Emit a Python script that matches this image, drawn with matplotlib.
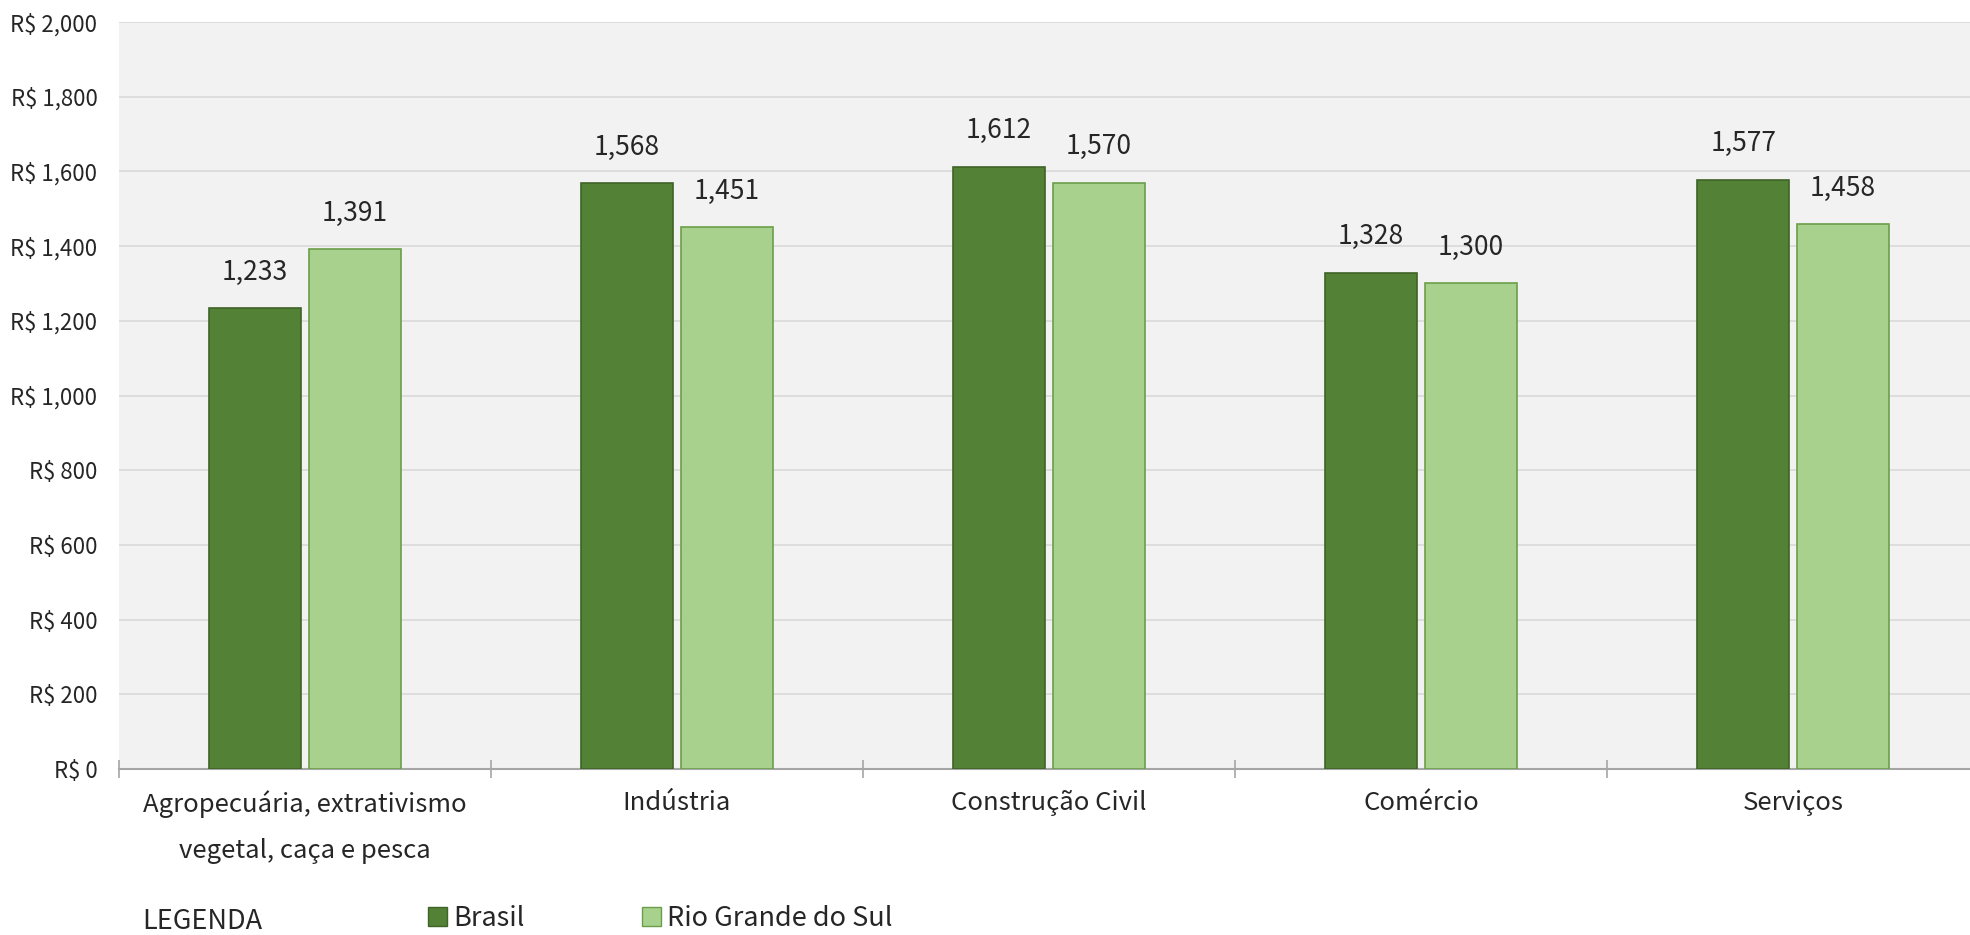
import matplotlib
matplotlib.use("Agg")
import matplotlib.pyplot as plt
import numpy as np
from matplotlib.patches import Patch
from matplotlib.ticker import FuncFormatter, MultipleLocator, FixedLocator

plt.rcParams["font.family"] = ["Noto Sans CJK JP", "DejaVu Sans"]

categories = [
    "Agropecuária, extrativismo\nvegetal, caça e pesca",
    "Indústria",
    "Construção Civil",
    "Comércio",
    "Serviços",
]
brasil = [1233, 1568, 1612, 1328, 1577]
rio_grande_do_sul = [1391, 1451, 1570, 1300, 1458]
series_names = ["Brasil", "Rio Grande do Sul"]

dark_green = "#538135"
light_green = "#A9D18E"
text_color = "#262626"

fig = plt.figure(figsize=(19.7, 9.35), dpi=100)
ax = fig.add_axes([119 / 1970, 1 - 769 / 935, 1860 / 1970, 747 / 935])
ax.set_facecolor("#F2F2F2")

x = np.arange(len(categories))
width = 0.247
offset = 0.134
b1 = ax.bar(x - offset, brasil, width, color=dark_green, edgecolor="#3E6427", linewidth=1.2, zorder=3)
b2 = ax.bar(x + offset, rio_grande_do_sul, width, color=light_green, edgecolor="#6A9E4A", linewidth=1.2, zorder=3)

for bars, vals in ((b1, brasil), (b2, rio_grande_do_sul)):
    for rect, v in zip(bars, vals):
        ax.annotate(f"{v:,}", (rect.get_x() + rect.get_width() / 2, v),
                    xytext=(0, 26), textcoords="offset points",
                    ha="center", va="center", fontsize=19, color=text_color)

ax.set_xlim(-0.5, len(categories) - 0.5)
ax.set_ylim(0, 2000)
ax.yaxis.set_major_locator(MultipleLocator(200))
ax.yaxis.set_major_formatter(FuncFormatter(lambda v, p: f"R$ {v:,.0f}"))
ax.grid(axis="y", color="#D9D9D9", linewidth=1.2, zorder=0)
ax.set_axisbelow(True)

ax.set_xticks(x)
ax.set_xticklabels(categories, fontsize=18.5, color=text_color, linespacing=2.0)
ax.xaxis.set_minor_locator(FixedLocator(np.arange(-0.5, len(categories), 1.0)))
ax.tick_params(axis="x", which="major", length=0, pad=15)
ax.tick_params(axis="x", which="minor", length=13, direction="inout", color="#A6A6A6", width=1.2)
ax.tick_params(axis="y", length=0, pad=15.5, labelsize=16, labelcolor=text_color)

for side in ("top", "right", "left"):
    ax.spines[side].set_visible(False)
ax.spines["bottom"].set_color("#A6A6A6")
ax.spines["bottom"].set_linewidth(1.5)

fig.text(142 / 1970, 1 - 929 / 935, "LEGENDA", fontsize=19.5, color=text_color, va="baseline", ha="left")
handles = [
    Patch(facecolor=dark_green, edgecolor="#3E6427"),
    Patch(facecolor=light_green, edgecolor="#6A9E4A"),
]
fig.legend(handles, series_names, ncol=2, loc="center left",
           bbox_to_anchor=(428 / 1970, 1 - 918 / 935), frameon=False,
           fontsize=19.5, handlelength=0.7, handleheight=0.7, handletextpad=0.25,
           columnspacing=4.3, borderaxespad=0, borderpad=0, labelcolor=text_color)

fig.savefig("out.png", dpi=100)
